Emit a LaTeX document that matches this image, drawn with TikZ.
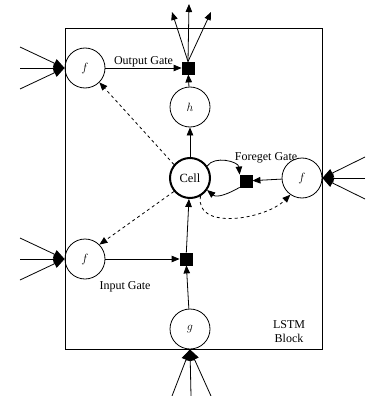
\documentclass[tikz,border=0pt]{standalone}
\usepackage{fontspec}
\setmainfont{Liberation Serif}
\usetikzlibrary{arrows.meta,positioning,calc}

\begin{document}
\begin{tikzpicture}[x=1pt,y=-1pt,>={Triangle[length=8pt,width=6.5pt]},line width=0.8pt,
  unit/.style={circle,draw,minimum size=40pt,inner sep=0pt,font=\fontsize{12.5}{14}\selectfont},
  mult/.style={rectangle,draw,fill=black,minimum size=12pt,inner sep=0pt},
  lbl/.style={font=\fontsize{12}{14}\selectfont,inner sep=1pt},
  fan/.style={->,>={Triangle[length=11pt,width=9pt]}}]
\useasboundingbox (0,0) rectangle (365,396);
\draw (65,28) rectangle (322,349);
% units
\node[unit] (fo) at (85,68) {$f$};
\node[unit] (h) at (190,107) {$h$};
\node[unit,line width=2pt] (cell) at (190,178) {Cell};
\node[unit] (ff) at (302,178) {$f$};
\node[unit] (fi) at (85,259) {$f$};
\node[unit] (g) at (190,329) {$g$};
% gates
\node[mult] (mo) at (188,68) {};
\node[mult] (mf) at (246,181) {};
\node[mult] (mi) at (186,259) {};
% labels
\node[lbl,above=0pt of $(fo.east)!0.5!(mo.west)$] (lo) {Output Gate};
\node[lbl] (lf) at (266,158) {Foreget Gate};
\node[lbl] (li) at (125,287) {Input Gate};
\node[lbl,align=center] (lb) at (289,332) {LSTM\\Block};
% solid connections
\draw[->] (fo) -- (mo);
\draw[->] (h) -- (mo);
\draw[->] (cell) -- (h);
\draw[->] (mi) -- (cell);
\draw[->] (g) -- (mi);
\draw[->] (fi) -- (mi);
\draw[->] (ff) -- (mf);
\draw[->] (cell.35) to[out=55,in=95] (mf.north west);
\draw[->] (mf.south west) to[out=-150,in=-40] (cell.-35);
% dashed connections
\draw[->,dashed] (cell.140) -- (fo.-45);
\draw[->,dashed] (cell.220) -- (fi.45);
\draw[->,dashed] (cell.-60) to[out=-100,in=-135] (ff.-125);
% fans
\foreach \n/\x/\y in {1/172/12,2/189/4,3/211/12}{
  \coordinate (o\n) at (\x,\y);
  \draw[->] (mo.north) -- (o\n);
}
\foreach \n/\x in {1/172,2/191,3/211}{
  \coordinate (b\n) at (\x,396);
  \draw[fan] (b\n) -- (g.south);
}
\foreach \n/\d in {1/-21,2/0,3/21}{
  \coordinate (lo\n) at (20,68+\d);
  \draw[fan] (lo\n) -- (fo.west);
  \coordinate (li\n) at (20,259+\d);
  \draw[fan] (li\n) -- (fi.west);
  \coordinate (r\n) at (365,178+\d);
  \draw[fan] (r\n) -- (ff.east);
}
\end{tikzpicture}
\end{document}
